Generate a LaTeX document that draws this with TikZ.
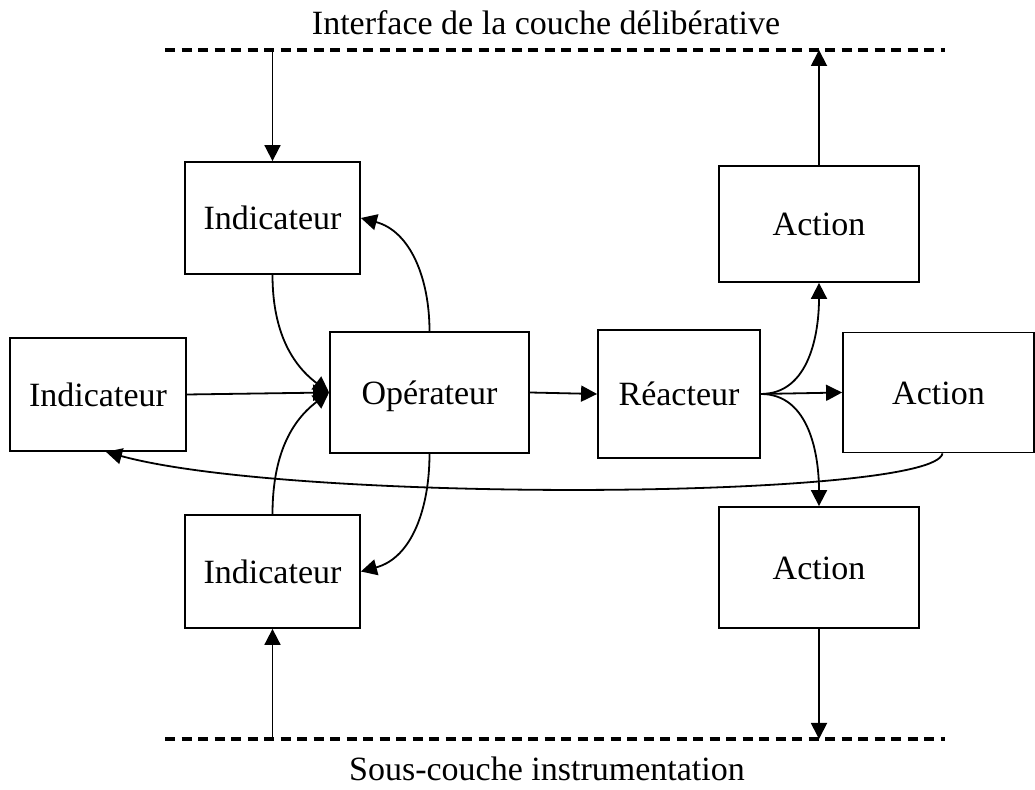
\documentclass[tikz,border=0pt]{standalone}
\usepackage{fontspec}
\setmainfont{Liberation Serif}
\usetikzlibrary{arrows.meta}
\begin{document}
\begin{tikzpicture}[x=1pt,y=1pt,
  box/.style={draw, line width=1.8pt, inner sep=0pt, text height=24pt, text depth=0pt,
    font=\fontsize{34}{40}\selectfont},
  conn/.style={line width=1.8pt, -{Triangle[length=16pt,width=16pt]}},
  layer/.style={line width=3.2pt, dash pattern=on 10pt off 6.5pt},
  caption/.style={inner sep=0pt, anchor=base, font=\fontsize{34}{40}\selectfont}]
\useasboundingbox (0,0) rectangle (1035,789);

% layer boundaries
\coordinate (tl) at (165,739);
\coordinate (tr) at (945,739);
\coordinate (bl) at (165,50);
\coordinate (br) at (945,50);
\draw[layer] (tl) -- (tr);
\draw[layer] (bl) -- (br);
\node[caption] (toplabel) at (546,754) {Interface de la couche délibérative};
\node[caption] (botlabel) at (547,9) {Sous-couche instrumentation};

% blocks
\node[box, minimum width=175pt, minimum height=112pt] (it) at (272.5,571) {Indicateur};
\node[box, minimum width=176pt, minimum height=113pt] (il) at (98,394.5) {Indicateur};
\node[box, minimum width=175pt, minimum height=113pt] (ib) at (272.5,217.5) {Indicateur};
\node[box, minimum width=199pt, minimum height=121pt] (op) at (429.5,396.5) {Opérateur};
\node[box, minimum width=162pt, minimum height=128pt] (re) at (679,395) {Réacteur};
\node[box, minimum width=200pt, minimum height=116pt] (at) at (819,565) {Action};
\node[box, minimum width=191pt, minimum height=120pt] (ar) at (938.5,396.5) {Action};
\node[box, minimum width=200pt, minimum height=121pt] (ab) at (819,221.5) {Action};

% links with the layers
\draw[conn] (it.north |- tl) -- (it.north);
\draw[conn] (ib.south |- bl) -- (ib.south);
\draw[conn] (at.north) -- (at.north |- tr);
\draw[conn] (ab.south) -- (ab.south |- br);

% indicators to operator
\draw[conn] (it.south) to[out=-90, in=143] (op.west);
\draw[conn] (il.east) -- (op.west);
\draw[conn] (ib.north) to[out=90, in=-143] (op.west);

% operator back to indicators
\draw[conn] (op.north) to[out=90, in=-15] (it.east);
\draw[conn] (op.south) to[out=-90, in=15] (ib.east);

% operator to reactor to actions
\draw[conn] (op.east) -- (re.west);
\draw[conn] (re.east) to[out=0, in=-90] (at.south);
\draw[conn] (re.east) -- (ar.west);
\draw[conn] (re.east) to[out=0, in=90] (ab.north);

% feedback from action to indicator
\draw[conn] ([xshift=4pt]ar.south) .. controls +(-8,-46) and +(190,-52) .. ([xshift=8pt]il.south);
\end{tikzpicture}
\end{document}
